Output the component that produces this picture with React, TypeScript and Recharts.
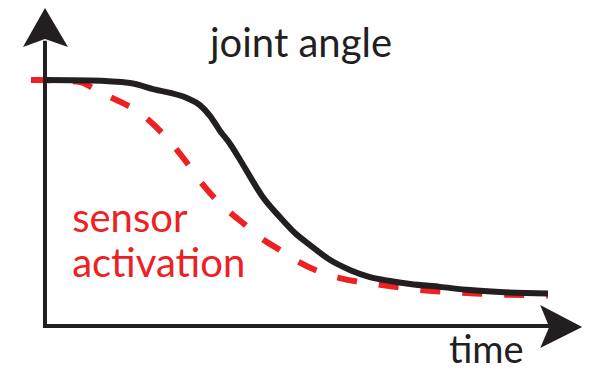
import React from 'react';
import { ComposedChart, Line, XAxis, YAxis, ReferenceLine, ReferenceDot } from 'recharts';

// joint angle (black solid)
const jointTime = [0, 8.9, 16.9, 21.5, 28.2, 30.8, 32.8, 34.8, 36.8, 38.8, 40.8, 43.3, 46.7, 49.7, 52.7, 56.7, 60.6, 64.6, 68.6, 72.6, 78.5, 84.5, 90.5, 100];
const jointAngle = [100, 99.8, 98.8, 96.3, 92.7, 89.8, 85.4, 79.3, 74.0, 67.5, 60.6, 52.4, 44.3, 37.8, 32.9, 26.8, 22.8, 19.9, 18.3, 17.1, 15.9, 14.6, 13.8, 13.2];

// sensor activation (red dashed)
const sensorTime = [-2.8, 3.0, 7.0, 9.9, 12.9, 15.9, 18.9, 21.9, 24.9, 27.8, 30.2, 32.8, 36.2, 39.8, 42.9, 46.7, 50.5, 54.7, 58.6, 62.6, 67.0, 71.6, 75.7, 80.5, 85.5, 90.5, 100];
const sensorActivation = [100, 99.8, 99.2, 96.3, 93.1, 90.2, 86.6, 81.3, 74.8, 67.5, 60.6, 54.1, 47.2, 41.1, 35.8, 30.9, 26.0, 22.0, 19.5, 17.9, 16.7, 15.4, 14.4, 13.8, 13.2, 12.8, 12.4];

const labels = {
  joint: 'joint angle',
  sensor1: 'sensor',
  sensor2: 'activation',
  time: 'time',
};

const BLACK = '#231F20';
const RED = '#ED2024';

const jointData = jointTime.map((t, i) => ({ t, v: jointAngle[i] }));
const sensorData = sensorTime.map((t, i) => ({ t, v: sensorActivation[i] }));

const upArrow = (p: any) => (
  <path
    d={`M${p.cx},${p.cy} L${p.cx + 23},${p.cy + 39} L${p.cx},${p.cy + 31} L${p.cx - 22},${p.cy + 39} Z`}
    fill={BLACK}
  />
);
const rightArrow = (p: any) => (
  <path
    d={`M${p.cx},${p.cy} L${p.cx - 42},${p.cy - 22} L${p.cx - 33},${p.cy} L${p.cx - 42},${p.cy + 21} Z`}
    fill={BLACK}
  />
);
const textShape = (value: string, color: string, size: number) => (p: any) => (
  <text x={p.cx} y={p.cy} fill={color} fontFamily="Lato, sans-serif" fontSize={size} textAnchor="start">
    {value}
  </text>
);

export default function App() {
  return (
    <div style={{ position: 'absolute', left: 0, top: 0, background: '#fff' }}>
      <ComposedChart width={590} height={371} margin={{ top: 6.2, right: 6.8, bottom: 45, left: 29.9 }}>
        <XAxis type="number" dataKey="t" domain={[-3, 107]} allowDataOverflow hide />
        <YAxis type="number" dataKey="v" domain={[0, 130]} allowDataOverflow hide />
        <Line data={sensorData} dataKey="v" type="monotone" stroke={RED} strokeWidth={6} strokeDasharray="20 22" dot={false} isAnimationActive={false} />
        <Line data={jointData} dataKey="v" type="monotone" stroke={BLACK} strokeWidth={6} dot={false} isAnimationActive={false} />
        <ReferenceLine segment={[{ x: 0, y: -0.8 }, { x: 0, y: 116 }]} stroke={BLACK} strokeWidth={4} ifOverflow="visible" />
        <ReferenceLine segment={[{ x: -0.4, y: 0 }, { x: 101, y: 0 }]} stroke={BLACK} strokeWidth={4} ifOverflow="visible" />
        <ReferenceDot x={0} y={129.3} r={0} shape={upArrow} ifOverflow="visible" />
        <ReferenceDot x={106.8} y={-0.4} r={0} shape={rightArrow} ifOverflow="visible" />
        <ReferenceDot x={32.8} y={109.3} r={0} shape={textShape(labels.joint, BLACK, 40)} ifOverflow="visible" />
        <ReferenceDot x={5.4} y={38.2} r={0} shape={textShape(labels.sensor1, RED, 40)} ifOverflow="visible" />
        <ReferenceDot x={5.4} y={19.9} r={0} shape={textShape(labels.sensor2, RED, 40)} ifOverflow="visible" />
        <ReferenceDot x={80.3} y={-15.0} r={0} shape={textShape(labels.time, BLACK, 38)} ifOverflow="visible" />
      </ComposedChart>
    </div>
  );
}
